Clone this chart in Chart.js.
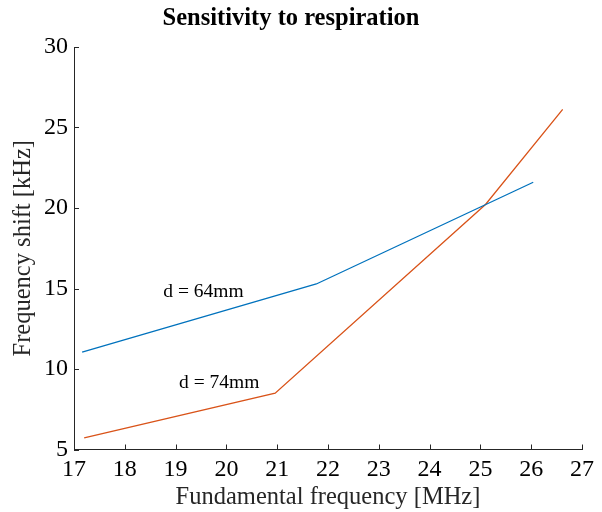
<!DOCTYPE html>
<html>
<head>
<meta charset="utf-8">
<script src="https://cdn.jsdelivr.net/npm/chart.js@4/dist/chart.umd.min.js"></script>
<style>
  body { margin: 0; background: #fff; }
  #wrap { width: 602px; height: 512px; }
</style>
</head>
<body>
<div id="wrap"><canvas id="chart" width="602" height="512"></canvas></div>
<script>
// Дані
const xD64 = [17.16, 21.77, 26.04];
const yD64 = [11.05, 15.28, 21.6];
const xD74 = [17.2, 20.96, 25.1, 26.62];
const yD74 = [5.72, 8.5, 20.22, 26.13];
const seriesLabels = ['d = 64mm', 'd = 74mm'];
// позиції підписів у координатах даних
const noteX = [19.55, 19.86];
const noteY = [14.8, 9.13];

const serif = "'Liberation Serif', 'Times New Roman', serif";
const ink = '#262626';

const toPoints = (xs, ys) => xs.map((x, i) => ({ x: x, y: ys[i] }));

// Внутрішні засічки та підписи серій
const extras = {
    id: 'extras',
    afterDraw(chart) {
        const { ctx, scales: { x, y } } = chart;
        ctx.save();
        ctx.strokeStyle = ink;
        ctx.lineWidth = 1;
        ctx.beginPath();
        x.ticks.forEach(t => {
            const px = Math.round(x.getPixelForValue(t.value)) + 0.5;
            ctx.moveTo(px, y.bottom);
            ctx.lineTo(px, y.bottom - 5);
        });
        y.ticks.forEach(t => {
            const py = Math.round(y.getPixelForValue(t.value)) + 0.5;
            ctx.moveTo(x.left, py);
            ctx.lineTo(x.left + 5, py);
        });
        ctx.stroke();

        ctx.fillStyle = '#000';
        ctx.font = '19.5px ' + serif;
        ctx.textAlign = 'center';
        ctx.textBaseline = 'middle';
        seriesLabels.forEach((s, i) => {
            ctx.fillText(s, x.getPixelForValue(noteX[i]), y.getPixelForValue(noteY[i]));
        });
        ctx.restore();
    }
};

new Chart(document.getElementById('chart'), {
    type: 'line',
    data: {
        datasets: [
            { label: seriesLabels[0], data: toPoints(xD64, yD64), borderColor: '#0072BD', borderWidth: 1.3, pointRadius: 0, tension: 0 },
            { label: seriesLabels[1], data: toPoints(xD74, yD74), borderColor: '#D95319', borderWidth: 1.3, pointRadius: 0, tension: 0 }
        ]
    },
    options: {
        responsive: false,
        animation: false,
        layout: { padding: { left: 0, right: 20, top: 0, bottom: 0 } },
        plugins: {
            legend: { display: false },
            tooltip: { enabled: false },
            title: {
                display: true,
                text: 'Sensitivity to respiration',
                color: '#000',
                font: { family: serif, size: 24.5, weight: 'bold', lineHeight: 1.2 },
                padding: { top: 3.5, bottom: 14.1 }
            }
        },
        scales: {
            x: {
                type: 'linear',
                min: 17, max: 27,
                ticks: { stepSize: 1, color: '#000', padding: 6, maxRotation: 0, font: { family: serif, size: 24 } },
                grid: { display: false, drawTicks: false },
                border: { display: true, color: ink, width: 1 },
                title: { display: true, text: 'Fundamental frequency [MHz]', color: ink, padding: { top: 0, bottom: 0 }, font: { family: serif, size: 24.5 } },
                afterFit: s => { s.height = 62.5; }
            },
            y: {
                type: 'linear',
                min: 5, max: 30,
                ticks: { stepSize: 5, color: '#000', padding: 6, font: { family: serif, size: 24 } },
                grid: { display: false, drawTicks: false },
                border: { display: true, color: ink, width: 1 },
                title: { display: true, text: 'Frequency shift [kHz]', color: ink, padding: { top: 9, bottom: 0 }, font: { family: serif, size: 24.5 } },
                afterFit: s => { s.width = 74; }
            }
        }
    },
    plugins: [extras]
});
</script>
</body>
</html>
